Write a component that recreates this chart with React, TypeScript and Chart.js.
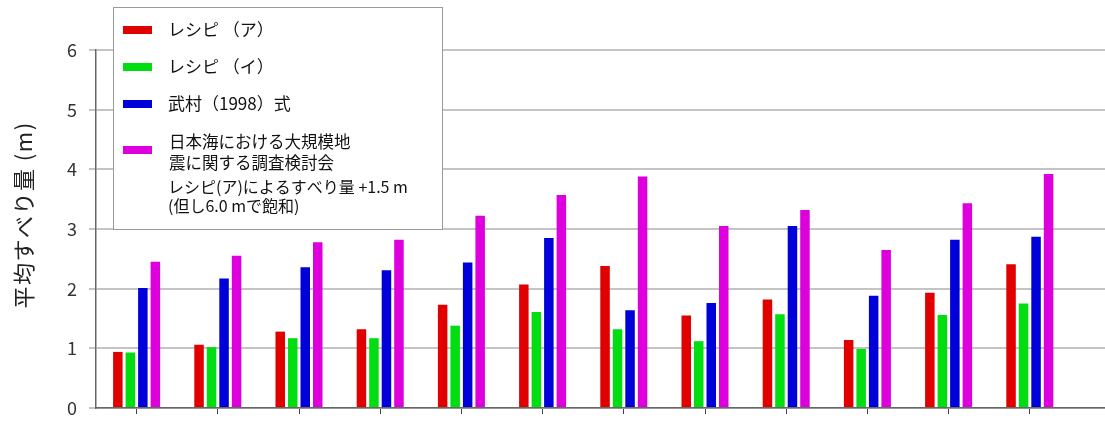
import { useEffect, useRef } from 'react';
import { Chart, registerables } from 'chart.js';

Chart.register(...registerables);

// ---- data ----
const categories = [0, 1, 2, 3, 4, 5, 6, 7, 8, 9, 10, 11];
const recipeA = [0.94, 1.06, 1.28, 1.32, 1.73, 2.07, 2.38, 1.55, 1.82, 1.14, 1.93, 2.41];
const recipeI = [0.93, 1.02, 1.17, 1.17, 1.38, 1.61, 1.32, 1.12, 1.57, 0.99, 1.56, 1.75];
const takemura = [2.01, 2.17, 2.36, 2.31, 2.44, 2.85, 1.64, 1.76, 3.05, 1.88, 2.82, 2.87];
const japanSea = [2.45, 2.55, 2.78, 2.82, 3.22, 3.57, 3.88, 3.05, 3.32, 2.65, 3.43, 3.92];
const seriesNames = ['レシピ （ア）', 'レシピ （イ）', '武村（1998）式', '日本海における大規模地震に関する調査検討会'];
const legendLine4 = ['日本海における大規模地', '震に関する調査検討会'];
const legendNote = ['レシピ(ア)によるすべり量 +1.5 m', '(但し6.0 mで飽和)'];
const yTitle = '平均すべり量 (m)';
const yTicks = [0, 1, 2, 3, 4, 5, 6];

const colors = ['#e00000', '#00dd10', '#0000d8', '#dd00dd'];
const FONT = '"Noto Sans CJK JP", "Noto Sans", sans-serif';

const toPoints = (vals: number[]) => vals.map((v, i) => ({ x: categories[i], y: v }));

const overlayPlugin = {
  id: 'overlay',
  afterDraw(chart: any) {
    const ctx = chart.ctx as CanvasRenderingContext2D;
    // y-axis title
    ctx.save();
    ctx.translate(24, 215);
    ctx.rotate(-Math.PI / 2);
    ctx.font = `22px ${FONT}`;
    (ctx as any).letterSpacing = '1.5px';
    ctx.fillStyle = '#222';
    ctx.textAlign = 'center';
    ctx.textBaseline = 'middle';
    ctx.fillText(yTitle, 0, 0);
    ctx.restore();

    // legend box
    ctx.save();
    ctx.fillStyle = '#ffffff';
    ctx.fillRect(113, 7, 329, 222);
    ctx.strokeStyle = '#9a9a9a';
    ctx.lineWidth = 1;
    ctx.strokeRect(113.5, 7.5, 329, 222);

    const swX = 123, swW = 29, swH = 8;
    const rowY = [30, 67, 104, 150];
    const ds = chart.data.datasets;
    ctx.textAlign = 'left';
    ctx.textBaseline = 'middle';
    for (let i = 0; i < 4; i++) {
      ctx.fillStyle = ds[i].backgroundColor;
      ctx.fillRect(swX, rowY[i] - swH / 2, swW, swH);
    }
    ctx.fillStyle = '#111';
    ctx.font = `17px ${FONT}`;
    for (let i = 0; i < 3; i++) {
      ctx.fillText(ds[i].label, 168, rowY[i]);
    }
    ctx.font = `16.5px ${FONT}`;
    ctx.fillText(legendLine4[0], 169, 142);
    ctx.fillText(legendLine4[1], 169, 163);
    ctx.font = `16px ${FONT}`;
    ctx.fillText(legendNote[0], 168, 187);
    ctx.fillText(legendNote[1], 168, 206);
    ctx.restore();
  },
};

export default function App() {
  const ref = useRef<HTMLCanvasElement | null>(null);
  useEffect(() => {
    if (!ref.current) return;
    const chart = new Chart(ref.current, {
      type: 'bar',
      data: {
        datasets: [recipeA, recipeI, takemura, japanSea].map((vals, i) => ({
          label: seriesNames[i],
          data: toPoints(vals) as any,
          backgroundColor: colors[i],
          borderWidth: 0,
          categoryPercentage: 0.616,
          barPercentage: 0.76,
        })),
      },
      options: {
        responsive: false,
        animation: false,
        layout: { padding: { top: 50, right: 0, bottom: 0, left: 0 } },
        plugins: {
          legend: { display: false },
          tooltip: { enabled: false },
          title: { display: false },
        },
        scales: {
          x: {
            type: 'linear',
            min: -0.5,
            max: 11.926,
            bounds: 'data',
            offset: false,
            afterFit: (s: any) => { s.height = 13; s.paddingLeft = 0; s.paddingRight = 0; },
            ticks: { stepSize: 1, includeBounds: true, display: false },
            afterBuildTicks: (s: any) => { s.ticks = categories.map((c) => ({ value: c })); },
            grid: { offset: false, drawOnChartArea: false, drawTicks: true, tickLength: 6, color: '#444', lineWidth: 1 },
            border: { display: true, color: '#666', width: 1.5 },
          },
          y: {
            min: 0,
            max: 6,
            afterFit: (s: any) => { s.width = 96; s.paddingTop = 0; s.paddingBottom = 0; },
            afterBuildTicks: (s: any) => { s.ticks = yTicks.map((v) => ({ value: v })); },
            ticks: { stepSize: 1, padding: 12, color: '#333', font: { family: FONT, size: 18 } },
            grid: { color: '#c4c4c4', lineWidth: 2, tickLength: 7, drawTicks: true },
            border: { display: true, color: '#666', width: 1.5 },
          },
        },
      },
      plugins: [overlayPlugin],
    });
    return () => chart.destroy();
  }, []);
  return (
    <div style={{ position: 'fixed', left: 0, top: 0, width: 1105, height: 421, background: '#fff' }}>
      <canvas ref={ref} width={1105} height={421} style={{ display: 'block' }} />
    </div>
  );
}
